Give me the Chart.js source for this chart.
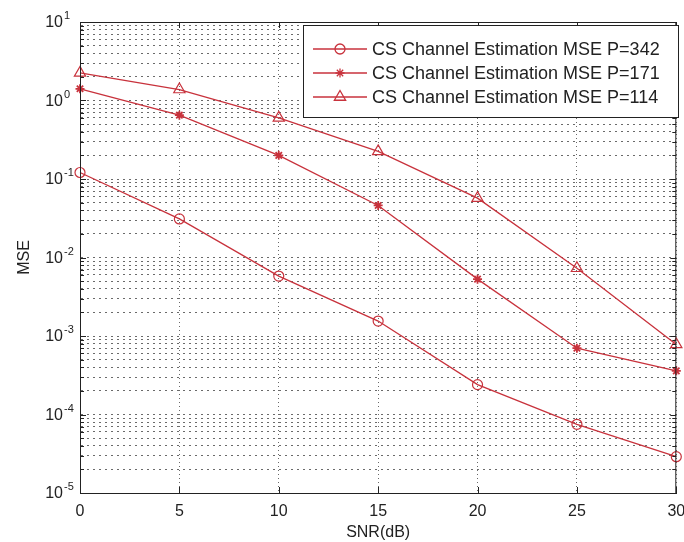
<!DOCTYPE html>
<html>
<head>
<meta charset="utf-8">
<script src="https://cdn.jsdelivr.net/npm/chart.js@4.4.1/dist/chart.umd.min.js"></script>
<style>
  html, body { margin: 0; padding: 0; background: #fff; }
  #wrap { width: 684px; height: 542px; }
</style>
</head>
<body>
<div id="wrap"><canvas id="mseChart" width="684" height="542"></canvas></div>
<script>
// SNR in dB (x axis) and tick labels
const snr = [0, 5, 10, 15, 20, 25, 30];
const xTicks = [0, 5, 10, 15, 20, 25, 30];

// MSE values
const mse342 = [0.121, 0.031, 0.0058, 0.00155, 0.00024, 0.000075, 0.000029];
const mse171 = [1.41, 0.65, 0.2, 0.046, 0.0053, 0.0007, 0.00036];
const mse114 = [2.25, 1.38, 0.6, 0.225, 0.057, 0.0073, 0.00078];

const seriesNames = [
  "CS Channel Estimation MSE P=342",
  "CS Channel Estimation MSE P=171",
  "CS Channel Estimation MSE P=114"
];

// y axis: decades with labels, plus minor steps inside each decade
const yExponents = [-5, -4, -3, -2, -1, 0, 1];
const minorSteps = [2, 3, 4, 5, 6, 7, 8, 9];

const FONT = "'Liberation Sans', Arial, sans-serif";
const TEXT = "#222";
const RED = "#c8323c";

let yTickValues = [];
yExponents.forEach((e) => {
  yTickValues.push(Math.pow(10, e));
  if (e < 1) minorSteps.forEach((m) => yTickValues.push(m * Math.pow(10, e)));
});

function toPoints(values) {
  return snr.map((x, i) => ({ x: x, y: values[i] }));
}

const markers = [
  { pointStyle: "circle", radius: 5, borderWidth: 1.2 },
  { pointStyle: "star", radius: 4.5, borderWidth: 1.8 },
  { pointStyle: "triangle", radius: 6.5, borderWidth: 1.2 }
];

const datasets = [mse342, mse171, mse114].map((vals, i) => ({
  label: seriesNames[i],
  data: toPoints(vals),
  borderColor: RED,
  backgroundColor: "rgba(0,0,0,0)",
  borderWidth: 1.3,
  pointStyle: markers[i].pointStyle,
  pointRadius: markers[i].radius,
  pointBorderWidth: markers[i].borderWidth,
  pointBorderColor: RED,
  pointBackgroundColor: "rgba(0,0,0,0)",
  tension: 0,
  clip: false
}));

// frame, inner tick marks, y labels with exponents and the boxed legend
const matlabLook = {
  id: "matlabLook",
  afterDatasetsDraw(chart) {
    const ctx = chart.ctx;
    const a = chart.chartArea;
    const xs = chart.scales.x;
    const ys = chart.scales.y;

    ctx.save();
    ctx.strokeStyle = "#222";
    ctx.lineWidth = 1;
    ctx.setLineDash([]);
    ctx.strokeRect(a.left + 0.5, a.top + 0.5, a.right - a.left - 1, a.bottom - a.top);

    // inner ticks
    ctx.beginPath();
    xTicks.forEach((v) => {
      const px = Math.round(xs.getPixelForValue(v)) + 0.5;
      ctx.moveTo(px, a.bottom); ctx.lineTo(px, a.bottom - 6);
      ctx.moveTo(px, a.top); ctx.lineTo(px, a.top + 6);
    });
    yTickValues.forEach((v) => {
      const py = Math.round(ys.getPixelForValue(v)) + 0.5;
      const isMajor = yExponents.some((e) => Math.abs(Math.pow(10, e) - v) < 1e-12);
      const len = isMajor ? 6 : 4;
      ctx.moveTo(a.left, py); ctx.lineTo(a.left + len, py);
      ctx.moveTo(a.right, py); ctx.lineTo(a.right - len, py);
    });
    ctx.stroke();

    // y labels 10^e
    ctx.fillStyle = TEXT;
    yExponents.forEach((e) => {
      const py = ys.getPixelForValue(Math.pow(10, e));
      ctx.font = "16px " + FONT;
      ctx.textAlign = "right";
      ctx.textBaseline = "middle";
      ctx.fillText("10", 63, py + 1);
      ctx.font = "11px " + FONT;
      ctx.textAlign = "left";
      ctx.fillText(String(e), 64, py - 6);
    });

    // legend
    const box = { left: 303, top: 25, right: 678, bottom: 117 };
    ctx.fillStyle = "#fff";
    ctx.fillRect(box.left, box.top, box.right - box.left, box.bottom - box.top);
    ctx.strokeStyle = "#222";
    ctx.strokeRect(box.left + 0.5, box.top + 0.5, box.right - box.left, box.bottom - box.top);
    const rows = [49, 73, 97];
    chart.data.datasets.forEach((ds, i) => {
      const y = rows[i];
      ctx.strokeStyle = RED;
      ctx.lineWidth = 1.3;
      ctx.beginPath();
      ctx.moveTo(313, y); ctx.lineTo(367, y);
      ctx.stroke();
      ctx.fillStyle = "rgba(0,0,0,0)";
      Chart.helpers.drawPoint(ctx, {
        pointStyle: ds.pointStyle,
        radius: ds.pointRadius,
        borderWidth: ds.pointBorderWidth,
        rotation: 0
      }, 340, y);
      ctx.fillStyle = TEXT;
      ctx.font = "18px " + FONT;
      ctx.textAlign = "left";
      ctx.textBaseline = "middle";
      ctx.fillText(ds.label, 372, y + 1);
    });
    ctx.restore();
  }
};

new Chart(document.getElementById("mseChart"), {
  type: "line",
  data: { datasets: datasets },
  options: {
    responsive: false,
    animation: false,
    layout: { padding: { top: 22, right: 4, left: 0, bottom: 0 } },
    plugins: { legend: { display: false }, tooltip: { enabled: false } },
    scales: {
      x: {
        type: "linear",
        min: 0,
        max: 30,
        afterBuildTicks: (s) => { s.ticks = xTicks.map((v) => ({ value: v })); },
        afterFit: (s) => { s.height = 49; s.paddingLeft = 0; s.paddingRight = 0; },
        ticks: { font: { size: 16, family: FONT }, color: TEXT, padding: 9, maxRotation: 0, autoSkip: false },
        grid: { color: "#6a6a6a", lineWidth: 1, drawTicks: false },
        border: { display: true, color: "#222", dash: [1, 3] },
        title: { display: true, text: "SNR(dB)", font: { size: 16, family: FONT }, color: TEXT, padding: { top: 0, bottom: 0 } }
      },
      y: {
        type: "logarithmic",
        min: 1e-5,
        max: 10,
        afterBuildTicks: (s) => { s.ticks = yTickValues.map((v) => ({ value: v })); },
        afterFit: (s) => { s.width = 80; },
        ticks: { display: false },
        grid: { color: "#6a6a6a", lineWidth: 1, drawTicks: false },
        border: { display: true, color: "#222", dash: [2, 4] },
        title: { display: true, text: "MSE", font: { size: 16, family: FONT }, color: TEXT, padding: { top: 15, bottom: 0 } }
      }
    }
  },
  plugins: [matlabLook]
});
</script>
</body>
</html>
